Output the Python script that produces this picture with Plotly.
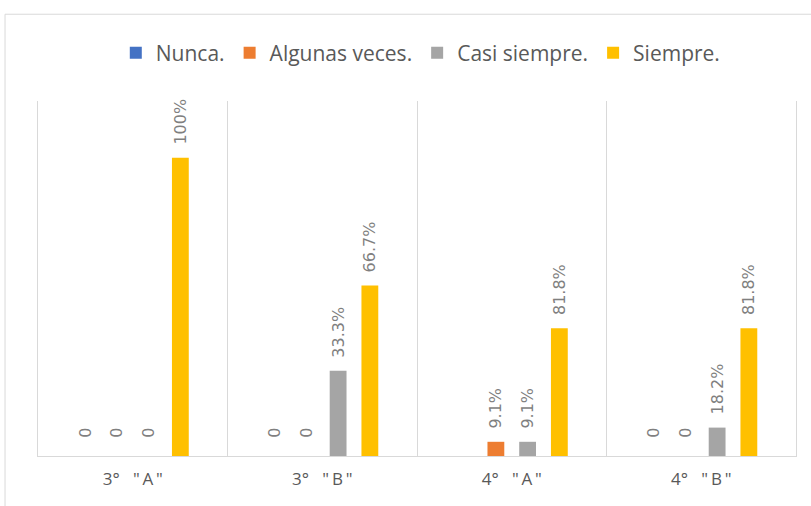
import plotly.graph_objects as go

categories = ['3° "A"', '3° "B"', '4° "A"', '4° "B"']
tick_labels = ['3°\u00a0\u00a0\u00a0"\u2009A\u2009"', '3°\u00a0\u00a0\u00a0"\u2009B\u2009"',
               '4°\u00a0\u00a0\u00a0"\u2009A\u2009"', '4°\u00a0\u00a0\u00a0"\u2009B\u2009"']
series_names = ["Nunca.", "Algunas veces.", "Casi siempre.", "Siempre."]

# bar heights (student counts)
nunca = [0, 0, None, 0]
algunas_veces = [0, 0, 1, 0]
casi_siempre = [0, 6, 1, 2]
siempre = [21, 12, 9, 9]

# data labels shown on the bars
nunca_labels = ["0", "0", "", "0"]
algunas_veces_labels = ["0", "0", "9.1%", "0"]
casi_siempre_labels = ["0", "33.3%", "9.1%", "18.2%"]
siempre_labels = ["100%", "66.7%", "81.8%", "81.8%"]

colors = ["#4472C4", "#ED7D31", "#A5A5A5", "#FFC000"]

series_values = [nunca, algunas_veces, casi_siempre, siempre]
series_labels = [nunca_labels, algunas_veces_labels, casi_siempre_labels, siempre_labels]
xpos = list(range(len(categories)))


def pad(t):
    if not t:
        return ""
    if t == "0":
        return "\u00a0\u00a0\u00a0" + t
    return "\u00a0\u00a0" + t


fig = go.Figure()
for name, vals, labs, col in zip(series_names, series_values, series_labels, colors):
    fig.add_trace(go.Bar(
        x=xpos, y=vals, name=name,
        marker=dict(color=col, line=dict(width=0)),
        text=[pad(t) for t in labs],
        textposition="outside", textangle=-90,
        constraintext="none", cliponaxis=False,
        textfont=dict(family="DejaVu Sans", size=16, color="#7f7f7f"),
    ))

fig.update_layout(
    width=811, height=506,
    margin=dict(l=38, r=15, t=101, b=50),
    paper_bgcolor="white", plot_bgcolor="white",
    barmode="group", bargap=0.33, bargroupgap=0.47,
    showlegend=True,
    legend=dict(orientation="h", x=0.505, xanchor="center", y=1.135, yanchor="middle",
                font=dict(family="Open Sans", size=21, color="#595959"),
                itemwidth=30, traceorder="normal"),
    xaxis=dict(
        tickmode="array", tickvals=xpos, ticktext=tick_labels,
        range=[-0.5, 3.5], showgrid=False, zeroline=False,
        showline=True, linecolor="#d9d9d9", linewidth=1, ticks="",
        ticklabelstandoff=8,
        tickfont=dict(family="Open Sans", size=17, color="#595959"),
        minor=dict(tickvals=[0.5, 1.5, 2.5], showgrid=True,
                   gridcolor="#d9d9d9", gridwidth=1, ticks=""),
    ),
    yaxis=dict(range=[0, 25], showticklabels=False, ticks="", showgrid=False,
               zeroline=False, showline=True, mirror=True,
               linecolor="#d9d9d9", linewidth=1),
    shapes=[dict(type="rect", xref="paper", yref="paper",
                 x0=-0.0435, x1=1.1, y0=-0.4, y1=1.2444,
                 line=dict(color="#d9d9d9", width=1), layer="below")],
)

fig.write_html("out.html", config={"displayModeBar": False},
               post_script="document.body.style.margin='0';")
